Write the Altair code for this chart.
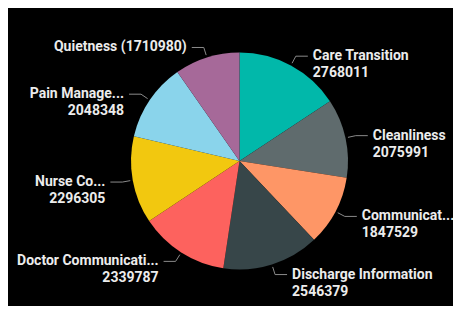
import altair as alt
import pandas as pd

categories = ["Care Transition", "Cleanliness", "Communication", "Discharge Information",
              "Doctor Communication", "Nurse Communication", "Pain Management", "Quietness"]
values = [2768011, 2075991, 1847529, 2546379, 2339787, 2296305, 2048348, 1710980]
shown_names = ["Care Transition", "Cleanliness", "Communicat...", "Discharge Information",
               "Doctor Communicati...", "Nurse Co...", "Pain Manage...", "Quietness"]
inline_label = [False, False, False, False, False, False, False, True]
colors = ["#01B8AA", "#5F6B6D", "#FE9666", "#374649", "#FD625E", "#F2C80F", "#8AD4EB", "#A66999"]

labels = [f"{n} ({v})" if inl else f"{n}\n{v}" for n, v, inl in zip(shown_names, values, inline_label)]

df = pd.DataFrame({"category": categories, "value": values, "idx": list(range(len(categories))),
                   "label": labels})

CX, CY, R = 231.5, 153, 108.5
R0, R1, H, G = 111, 119, 12, 5

pie = alt.Chart(df).mark_arc(outerRadius=R).encode(
    theta=alt.Theta("value:Q", stack=True),
    order=alt.Order("idx:Q"),
    color=alt.Color("category:N", scale=alt.Scale(domain=categories, range=colors), legend=None, sort=None),
    x=alt.value(CX), y=alt.value(CY),
)

base = alt.Chart(df).transform_joinaggregate(total="sum(value)").transform_window(
    cum="sum(value)", sort=[alt.SortField("idx")]
).transform_calculate(
    mid="(datum.cum - datum.value/2)/datum.total*2*PI"
).transform_calculate(
    s="sin(datum.mid)", c="cos(datum.mid)"
).transform_calculate(
    x0=f"{CX} + {R0}*datum.s", y0=f"{CY} - {R0}*datum.c",
    x1=f"{CX} + {R1}*datum.s", y1=f"{CY} - {R1}*datum.c",
).transform_calculate(
    x2=f"datum.x1 + (datum.s >= 0 ? {H} : -{H})"
).transform_calculate(
    xt=f"datum.x2 + (datum.s >= 0 ? {G} : -{G})"
)

lead1 = base.mark_rule(color="#8a8a8a", strokeWidth=1).encode(
    x=alt.X("x0:Q", scale=None), y=alt.Y("y0:Q", scale=None),
    x2="x1:Q", y2="y1:Q")
lead2 = base.mark_rule(color="#8a8a8a", strokeWidth=1).encode(
    x=alt.X("x1:Q", scale=None), y=alt.Y("y1:Q", scale=None),
    x2="x2:Q", y2="y1:Q")

txt_kw = dict(font="Roboto", fontSize=14, fontWeight="bold", color="#ececec",
              lineBreak="\n", lineHeight=17, baseline="middle")
right = base.transform_filter("datum.s >= 0").mark_text(align="left", **txt_kw).encode(
    x=alt.X("xt:Q", scale=None), y=alt.Y("y1:Q", scale=None), text="label:N")
left = base.transform_filter("datum.s < 0").mark_text(align="right", **txt_kw).encode(
    x=alt.X("xt:Q", scale=None), y=alt.Y("y1:Q", scale=None), text="label:N")

chart = alt.layer(pie, lead1, lead2, right, left).properties(
    width=445, height=298, padding=0, background="#000000",
    autosize=alt.AutoSizeParams(type="none")
).configure_view(stroke=None)

chart.save("out.html", embed_options={"renderer": "svg", "actions": False})
